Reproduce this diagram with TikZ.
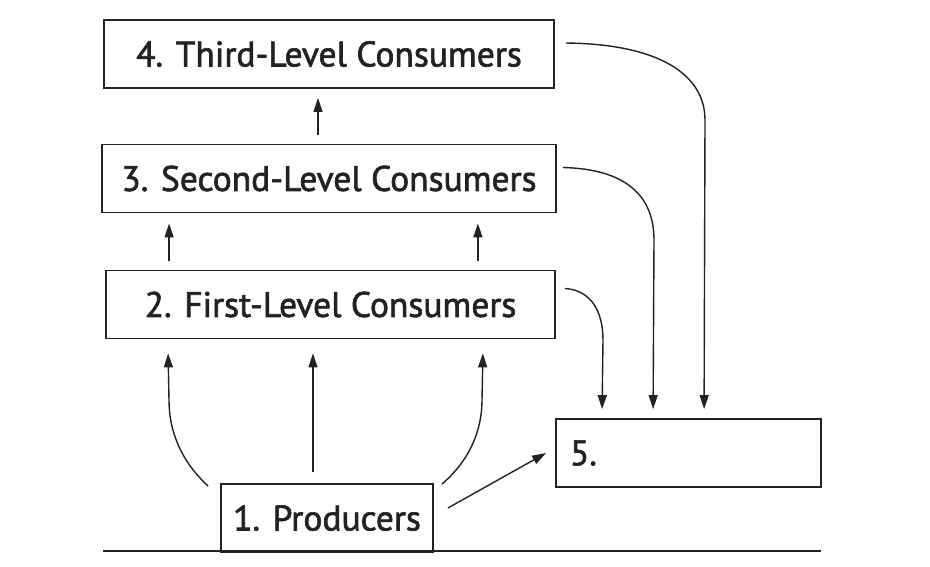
\documentclass[tikz,border=0pt]{standalone}
\usepackage{fontspec}
\setmainfont{PT Sans}
\newfontfamily\lblfont{PT Sans}[FakeBold=1.8]
\usetikzlibrary{arrows.meta}
\definecolor{ink}{HTML}{222222}
\tikzset{
  box/.style={draw=ink, line width=1.8pt, fill=white, minimum height=68pt, inner sep=0pt, font=\lblfont\fontsize{35.5}{40}\selectfont, text=ink},
  arr/.style={draw=ink, line width=1.4pt, -{Triangle[length=14pt,width=9pt]}},
  ground/.style={draw=ink, line width=1.8pt}
}
\begin{document}
\begin{tikzpicture}[x=1pt,y=-1pt]
\useasboundingbox (0,0) rectangle (930,566);
\node[box, minimum width=450pt] (n4) at (329,54) {4. Third-Level Consumers};
\node[box, minimum width=454pt] (n3) at (329,178.5) {3. Second-Level Consumers};
\node[box, minimum width=449pt] (n2) at (330.5,304.5) {2. First-Level Consumers};
\node[box, minimum width=212pt] (n1) at (327,518) {1. Producers};
\node[box, minimum width=265pt, text width=237pt, align=left] (n5) at (688.5,453) {5.};
\coordinate (gl) at (103,551);
\coordinate (gr) at (821,551);
\draw[ground] (gl) -- (gr);
% up arrows
\draw[arr] ([xshift=-11pt,yshift=9pt]n3.north) -- ([xshift=-11pt,yshift=-9pt]n4.south);
\draw[arr] ([xshift=64pt,yshift=9pt]n2.north west) -- ([xshift=68pt,yshift=-10pt]n3.south west);
\draw[arr] ([xshift=-78pt,yshift=9pt]n2.north east) -- ([xshift=-79pt,yshift=-10pt]n3.south east);
% producers to first level
\draw[arr] ([xshift=-12pt,yshift=-3pt]n1.north west) .. controls (180,460) and (169,430) .. (169,400) -- ([xshift=63pt,yshift=-14pt]n2.south west);
\draw[arr] ([xshift=-14pt,yshift=11pt]n1.north) -- ([xshift=-17.5pt,yshift=-14pt]n2.south);
\draw[arr] ([xshift=8pt,yshift=-1pt]n1.north east) .. controls (470,460) and (482,430) .. (482,400) -- ([xshift=-73pt,yshift=-14pt]n2.south east);
\draw[arr] ([xshift=14pt,yshift=10pt]n1.east) -- ([xshift=-9pt,yshift=0pt]n5.west);
% to decomposers
\draw[arr] ([xshift=9pt,yshift=16pt]n2.east) .. controls (590,290) and (603,310) .. (603,340) -- ([xshift=47pt,yshift=9pt]n5.north west);
\draw[arr] ([xshift=6pt,yshift=11pt]n3.east) .. controls (625,169) and (654,195) .. (654,240) -- ([xshift=98pt,yshift=9pt]n5.north west);
\draw[arr] ([xshift=11pt,yshift=11pt]n4.east) .. controls (660,44) and (705,75) .. (705,120) -- ([xshift=149pt,yshift=9pt]n5.north west);
\end{tikzpicture}
\end{document}
